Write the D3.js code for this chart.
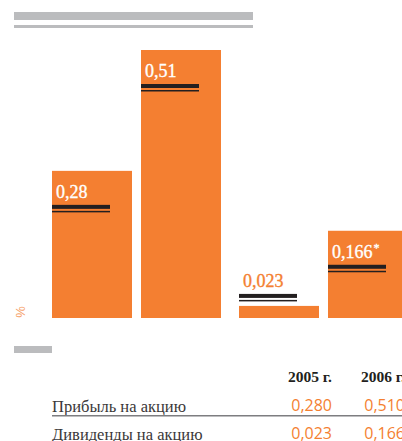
<!DOCTYPE html>
<html>
<head>
<meta charset="utf-8">
<script src="https://cdn.jsdelivr.net/npm/d3@7"></script>
<style>
  html, body { margin: 0; padding: 0; background: #fff; overflow: hidden; }
  svg { display: block; }
</style>
</head>
<body>
<div id="chart"></div>
<script>
// Per-share figures, roubles
const categories = ["Прибыль на акцию", "Дивиденды на акцию"];
const years = ["2005 г.", "2006 г."];
const profit = [0.280, 0.510];
const dividends = [0.023, 0.166];
const barLabels = [["0,28", "0,51"], ["0,023", "0,166"]];
const footnoteMark = [["", ""], ["", "*"]];
const tableValues = [["0,280", "0,510"], ["0,023", "0,166"]];

const W = 402, H = 441;
const ORANGE = "#f47f31", GREY = "#bbbcbe", DARK = "#231f20";

const svg = d3.select("#chart").append("svg")
  .attr("width", W).attr("height", H);

// Header rules
svg.append("rect").attr("x", 14).attr("y", 12).attr("width", 239).attr("height", 8).attr("fill", GREY);
svg.append("rect").attr("x", 14).attr("y", 25).attr("width", 239).attr("height", 3).attr("fill", GREY);

// Scales
const x0 = d3.scaleBand().domain(categories).range([52, 408]).paddingInner(18 / 187).paddingOuter(0);
const x1 = d3.scaleBand().domain(years).range([0, x0.bandwidth()]).paddingInner(9 / 89).paddingOuter(0);
const y = d3.scaleLinear().domain([0, 0.51]).range([318, 50]);

const series = [profit, dividends];
const bars = [];
categories.forEach((c, ci) => {
  years.forEach((yr, yi) => {
    bars.push({ c, yr, ci, yi, v: series[ci][yi], label: barLabels[ci][yi], mark: footnoteMark[ci][yi] });
  });
});

const g = svg.append("g");
g.selectAll("rect.bar").data(bars).join("rect")
  .attr("class", "bar")
  .attr("x", d => x0(d.c) + x1(d.yr))
  .attr("y", d => y(d.v))
  .attr("width", x1.bandwidth())
  .attr("height", d => y(0) - y(d.v))
  .attr("fill", ORANGE);

// Value labels with double rule; short bars carry the label above the bar
bars.forEach(d => {
  const bx = x0(d.c) + x1(d.yr);
  const top = y(d.v);
  const inside = (y(0) - top) > 40;
  const base = inside ? top + 27 : top - 19;
  const col = inside ? "#fff" : ORANGE;
  const t = g.append("text")
    .attr("x", bx + 4).attr("y", base)
    .attr("font-family", "Liberation Serif, serif")
    .attr("font-size", 18)
    .attr("fill", col)
    .attr("stroke", col)
    .attr("stroke-width", 0.35)
    .text(d.label);
  if (d.mark) {
    t.append("tspan").attr("font-size", 12).attr("dy", -6).attr("dx", 1).text(d.mark);
  }
  g.append("rect").attr("x", bx).attr("y", base + 7).attr("width", 58).attr("height", 4).attr("fill", DARK);
  g.append("rect").attr("x", bx).attr("y", base + 13).attr("width", 58).attr("height", 1.5).attr("fill", DARK);
});

// Unit mark
svg.append("text")
  .attr("transform", "translate(24.5,312) rotate(-90)")
  .attr("text-anchor", "middle")
  .attr("font-family", "Liberation Sans, sans-serif")
  .attr("font-size", 13)
  .attr("fill", "#f6a068")
  .text("%");

// Table
svg.append("rect").attr("x", 14).attr("y", 346).attr("width", 38).attr("height", 7).attr("fill", GREY);

const colRight = [332, 405];
years.forEach((yr, i) => {
  svg.append("text")
    .attr("x", colRight[i]).attr("y", 382)
    .attr("text-anchor", "end")
    .attr("font-family", "Liberation Serif, serif")
    .attr("font-weight", "bold")
    .attr("font-size", 15.5)
    .attr("fill", DARK)
    .text(yr);
});

const rowY = [412, 440];
categories.forEach((c, ri) => {
  svg.append("text")
    .attr("x", 52).attr("y", rowY[ri])
    .attr("font-family", "Liberation Serif, serif")
    .attr("font-size", 16.5)
    .attr("fill", "#3a3738")
    .text(c);
  tableValues[ri].forEach((v, ci) => {
    svg.append("text")
      .attr("x", colRight[ci]).attr("y", rowY[ri] - 1)
      .attr("text-anchor", "end")
      .attr("font-family", "Open Sans, sans-serif")
      .attr("font-size", 16)
      .attr("fill", ORANGE)
      .text(v);
  });
});
svg.append("rect").attr("x", 52).attr("y", 415).attr("width", 350).attr("height", 1.5).attr("fill", "#7d7d80");
</script>
</body>
</html>
